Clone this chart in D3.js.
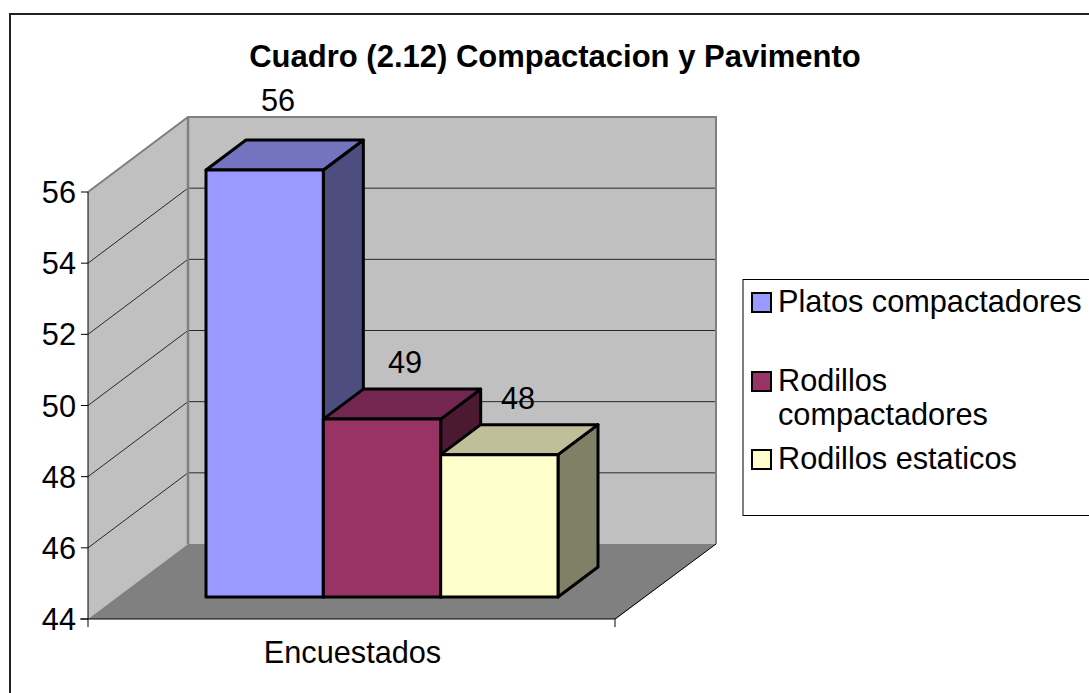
<!DOCTYPE html>
<html><head><meta charset="utf-8">
<script src="https://cdnjs.cloudflare.com/ajax/libs/d3/7.8.5/d3.min.js"></script>
<style>html,body{margin:0;background:#fff}svg{display:block}text{font-family:"Liberation Sans",Arial,sans-serif;fill:#000}</style>
</head><body><svg id="c" width="1089" height="693"></svg>
<script>
const titleText = "Cuadro (2.12) Compactacion y Pavimento";
const categoryLabel = "Encuestados";
const seriesNames = ["Platos compactadores", "Rodillos compactadores", "Rodillos estaticos"];
const seriesValues = [56, 49, 48];
const tickValues = [44, 46, 48, 50, 52, 54, 56];
const frontColors = ["#9999ff", "#993366", "#ffffcc"];
const topColors = ["#7373bf", "#732650", "#bfbf99"];
const sideColors = ["#4d4d80", "#4c1933", "#808066"];

const svg = d3.select("#c");
const y = d3.scaleLinear().domain([44, 56]).range([619, 192]);
const x = d3.scaleBand().domain(seriesNames).range([206, 558]);
const depth = {x: 100, y: -75};
const barDepth = {x: 40, y: -30};
const barShift = 22;
const left = 88, right = 616;
const line = d3.line();
const fs = 30.7;

svg.append("rect").attr("x",10).attr("y",14).attr("width",1100).attr("height",800).attr("fill","#fff").attr("stroke","#222").attr("stroke-width",2);

const yTop = y(56), base = y(44);
svg.append("path").attr("d",line([[left,yTop],[left+depth.x,yTop+depth.y],[left+depth.x,base+depth.y],[left,base]])+"Z").attr("fill","#c0c0c0");
svg.append("rect").attr("x",left+depth.x).attr("y",yTop+depth.y).attr("width",right-left).attr("height",base-yTop).attr("fill","#c0c0c0");
svg.append("path").attr("d",line([[left,base],[right,base],[right+depth.x,base+depth.y],[left+depth.x,base+depth.y]])+"Z").attr("fill","#808080");

tickValues.slice(1).forEach(t=>{
  svg.append("path").attr("fill","none").attr("stroke","#000").attr("stroke-width",0.8)
    .attr("d",line([[left,y(t)],[left+depth.x,y(t)+depth.y],[right+depth.x,y(t)+depth.y]]));
});
svg.append("path").attr("fill","none").attr("stroke","#808080").attr("stroke-width",2.5).attr("d",line([[left+depth.x,yTop+depth.y],[left+depth.x,base+depth.y]]));
svg.append("path").attr("fill","none").attr("stroke","#808080").attr("stroke-width",2).attr("d",line([[left,yTop],[left+depth.x,yTop+depth.y],[right+depth.x,yTop+depth.y],[right+depth.x,base+depth.y]]));

svg.append("path").attr("fill","none").attr("stroke","#000").attr("stroke-width",1).attr("d",line([[left,yTop],[left,base+8]]));
svg.append("path").attr("fill","none").attr("stroke","#000").attr("stroke-width",1).attr("d",line([[left-8,base],[right-1,base],[right+depth.x,base+depth.y]]));
svg.append("path").attr("fill","none").attr("stroke","#000").attr("d",line([[right-1,base],[right-1,base+8]]));
svg.selectAll(".tick").data(tickValues).join("line").attr("class","tick").attr("x1",left-7).attr("x2",left).attr("y1",d=>y(d)).attr("y2",d=>y(d)).attr("stroke","#000");
svg.selectAll(".tl").data(tickValues).join("text").attr("class","tl").attr("x",76).attr("y",d=>y(d)+11).attr("text-anchor","end").attr("font-size",fs).text(d=>d);

const barY = v => y(v) - barShift;
const bars = seriesNames.map((n,i)=>({n,i,v:seriesValues[i],x0:x(n),x1:x(n)+x.bandwidth(),yt:barY(seriesValues[i]),yb:barY(44)}));
bars.forEach(b=>{
  const g = svg.append("g").attr("stroke","#000").attr("stroke-width",3).attr("stroke-linejoin","round");
  g.append("path").attr("fill",sideColors[b.i]).attr("d",line([[b.x1,b.yt],[b.x1+barDepth.x,b.yt+barDepth.y],[b.x1+barDepth.x,b.yb+barDepth.y],[b.x1,b.yb]])+"Z");
  g.append("path").attr("fill",topColors[b.i]).attr("d",line([[b.x0,b.yt],[b.x0+barDepth.x,b.yt+barDepth.y],[b.x1+barDepth.x,b.yt+barDepth.y],[b.x1,b.yt]])+"Z");
  g.append("rect").attr("x",b.x0).attr("y",b.yt).attr("width",b.x1-b.x0).attr("height",b.yb-b.yt).attr("fill",frontColors[b.i]);
});
const labelPos = [[278,111],[405,373],[518,409]];
bars.forEach(b=>{
  svg.append("text").attr("x",labelPos[b.i][0]).attr("y",labelPos[b.i][1]).attr("text-anchor","middle").attr("font-size",fs).text(b.v);
});

svg.append("text").attr("x",352.5).attr("y",663).attr("text-anchor","middle").attr("font-size",fs).text(categoryLabel);
svg.append("text").attr("x",555).attr("y",67).attr("text-anchor","middle").attr("font-size",31).attr("font-weight","bold").text(titleText);

svg.append("rect").attr("x",743).attr("y",279.5).attr("width",400).attr("height",236).attr("fill","#fff").attr("stroke","#000").attr("stroke-width",1);
const legendTop = [293, 372, 450];
seriesNames.forEach((n,i)=>{
  svg.append("rect").attr("x",752).attr("y",legendTop[i]).attr("width",19).attr("height",19).attr("fill",frontColors[i]).attr("stroke","#000").attr("stroke-width",2);
});
const legendLines = [["Platos compactadores"],["Rodillos","compactadores"],["Rodillos estaticos"]];
const legendBase = [[312],[391,425],[469]];
legendLines.forEach((ls,i)=>ls.forEach((l,j)=>{
  svg.append("text").attr("x",778).attr("y",legendBase[i][j]).attr("font-size",fs).text(l);
}));
</script></body></html>
